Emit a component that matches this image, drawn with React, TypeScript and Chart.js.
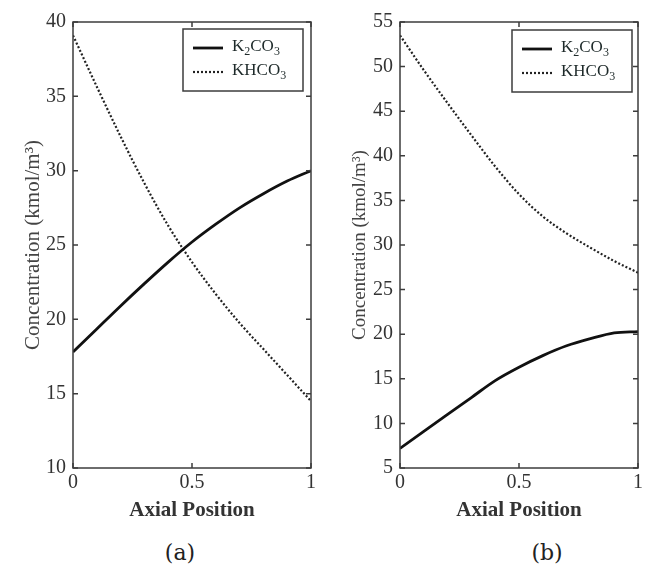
import React, { useEffect, useRef } from 'react';
import { Chart, registerables } from 'chart.js';

Chart.register(...registerables);

// ---- Data ----
const positions = [0, 0.1, 0.2, 0.3, 0.4, 0.5, 0.6, 0.7, 0.8, 0.9, 1.0];
const k2co3A = [17.8, 19.35, 20.9, 22.4, 23.85, 25.2, 26.4, 27.5, 28.45, 29.3, 30.0];
const khco3A = [39.1, 35.65, 32.3, 29.15, 26.3, 23.85, 21.7, 19.75, 18.0, 16.25, 14.5];
const k2co3B = [7.2, 9.1, 11.0, 12.9, 14.8, 16.3, 17.6, 18.7, 19.5, 20.15, 20.3];
const khco3B = [53.5, 49.6, 45.9, 42.3, 38.8, 35.7, 33.2, 31.3, 29.7, 28.2, 26.9];
const seriesNames = ['K₂CO₃', 'KHCO₃'];
const xTicks = [0, 0.5, 1];
const yTicksA = [10, 15, 20, 25, 30, 35, 40];
const yTicksB = [5, 10, 15, 20, 25, 30, 35, 40, 45, 50, 55];
const xTitle = 'Axial Position';
const yTitle = 'Concentration (kmol/m³)';
const panelLabels = ['(a)', '(b)'];

const SERIF = '"Liberation Serif", "Times New Roman", serif';
const SUBS = '₀₁₂₃₄₅₆₇₈₉';

function drawRichLabel(ctx: CanvasRenderingContext2D, text: string, x: number, y: number) {
  let cx = x;
  for (const ch of Array.from(text)) {
    const si = SUBS.indexOf(ch);
    if (si >= 0) {
      ctx.font = '12px ' + SERIF;
      ctx.fillText(String(si), cx, y + 5);
      cx += ctx.measureText(String(si)).width;
    } else {
      ctx.font = '17px ' + SERIF;
      ctx.fillText(ch, cx, y);
      cx += ctx.measureText(ch).width;
    }
  }
}

const framePlugin = {
  id: 'frame',
  afterDraw(chart: any, _args: any, opts: any) {
    const { ctx, chartArea } = chart;
    const { left, right, top, bottom } = chartArea;
    const x = chart.scales.x;
    const y = chart.scales.y;
    ctx.save();
    ctx.strokeStyle = '#3c3c3c';
    ctx.lineWidth = 1.5;
    ctx.setLineDash([]);
    ctx.strokeRect(left, top, right - left, bottom - top);
    const tl = 5;
    ctx.beginPath();
    (opts.xTicks || []).forEach((v: number) => {
      const px = x.getPixelForValue(v);
      ctx.moveTo(px, bottom);
      ctx.lineTo(px, bottom - tl);
      ctx.moveTo(px, top);
      ctx.lineTo(px, top + tl);
    });
    (opts.yTicks || []).forEach((v: number) => {
      const py = y.getPixelForValue(v);
      ctx.moveTo(left, py);
      ctx.lineTo(left + tl, py);
      ctx.moveTo(right, py);
      ctx.lineTo(right - tl, py);
    });
    ctx.stroke();

    // Legend box
    const bw = 120;
    const bh = 62;
    const bx = right - opts.legendRight - bw;
    const by = top + opts.legendTop;
    ctx.fillStyle = '#ffffff';
    ctx.fillRect(bx, by, bw, bh);
    ctx.strokeStyle = '#3c3c3c';
    ctx.lineWidth = 1.5;
    ctx.strokeRect(bx, by, bw, bh);
    const rows = [by + 19, by + 43];
    chart.data.datasets.forEach((ds: any, i: number) => {
      const ry = rows[i];
      ctx.beginPath();
      ctx.strokeStyle = ds.borderColor;
      ctx.lineWidth = ds.borderWidth;
      ctx.setLineDash(ds.borderDash || []);
      ctx.moveTo(bx + 10, ry);
      ctx.lineTo(bx + 40, ry);
      ctx.stroke();
      ctx.setLineDash([]);
      ctx.fillStyle = '#1e2a2a';
      ctx.textBaseline = 'middle';
      ctx.textAlign = 'left';
      drawRichLabel(ctx, ds.label, bx + 49, ry - 1);
    });
    ctx.restore();
  },
};

function makeConfig(
  k2: number[],
  kh: number[],
  yMin: number,
  yMax: number,
  yTicks: number[],
  yWidth: number,
  padRight: number,
  yTitleSize: number,
  yTitlePad: number,
  legendRight: number,
  legendTop: number
): any {
  return {
    type: 'line',
    data: {
      datasets: [
        {
          label: seriesNames[0],
          data: positions.map((p, i) => ({ x: p, y: k2[i] })),
          borderColor: '#111111',
          borderWidth: 2.8,
          pointRadius: 0,
          fill: false,
          cubicInterpolationMode: 'monotone',
        },
        {
          label: seriesNames[1],
          data: positions.map((p, i) => ({ x: p, y: kh[i] })),
          borderColor: '#222222',
          borderWidth: 2.2,
          borderDash: [2, 2],
          pointRadius: 0,
          fill: false,
          cubicInterpolationMode: 'monotone',
        },
      ],
    },
    options: {
      animation: false,
      responsive: false,
      devicePixelRatio: 1,
      layout: { padding: { left: 0, right: padRight, top: 22, bottom: 0 } },
      plugins: {
        legend: { display: false },
        tooltip: { enabled: false },
        frame: { xTicks, yTicks, legendRight, legendTop },
      },
      scales: {
        x: {
          type: 'linear',
          min: 0,
          max: 1,
          afterBuildTicks: (scale: any) => {
            scale.ticks = xTicks.map((v) => ({ value: v }));
          },
          afterFit: (scale: any) => {
            scale.height = 62;
          },
          grid: { display: false, drawTicks: false },
          border: { display: false },
          ticks: {
            padding: 3,
            color: '#333333',
            font: { family: SERIF, size: 20 },
            callback: (v: any) => String(v),
            maxRotation: 0,
            autoSkip: false,
          },
          title: {
            display: true,
            text: xTitle,
            color: '#333333',
            font: { family: SERIF, size: 21, weight: 'bold' },
            padding: { top: 0, bottom: 7 },
          },
        },
        y: {
          type: 'linear',
          min: yMin,
          max: yMax,
          afterBuildTicks: (scale: any) => {
            scale.ticks = yTicks.map((v) => ({ value: v }));
          },
          afterFit: (scale: any) => {
            scale.width = yWidth;
          },
          grid: { display: false, drawTicks: false },
          border: { display: false },
          ticks: {
            padding: 7,
            color: '#333333',
            font: { family: SERIF, size: 20 },
            autoSkip: false,
          },
          title: {
            display: true,
            text: yTitle,
            color: '#444444',
            font: { family: SERIF, size: yTitleSize },
            padding: { top: yTitlePad, bottom: 0 },
          },
        },
      },
    },
    plugins: [framePlugin],
  };
}

function Panel({ left, width, config }: { left: number; width: number; config: any }) {
  const ref = useRef<HTMLCanvasElement | null>(null);
  useEffect(() => {
    if (!ref.current) return;
    const chart = new Chart(ref.current, config);
    return () => chart.destroy();
  }, []);
  return (
    <canvas
      ref={ref}
      width={width}
      height={530}
      style={{ position: 'absolute', left, top: 0, width, height: 530 }}
    />
  );
}

export default function App() {
  const cfgA = makeConfig(k2co3A, khco3A, 10, 40, yTicksA, 73, 14, 21, 21, 8, 7);
  const cfgB = makeConfig(k2co3B, khco3B, 5, 55, yTicksB, 75, 13, 19, 24, 6, 8);
  const labelStyle: React.CSSProperties = {
    position: 'absolute',
    top: 541,
    transform: 'translateX(-50%)',
    fontFamily: '"DejaVu Serif", serif',
    fontSize: 22,
    lineHeight: '24px',
    color: '#222',
    whiteSpace: 'nowrap',
  };
  return (
    <div style={{ position: 'absolute', left: 0, top: 0, width: 651, height: 566, background: '#fff' }}>
      <Panel left={0} width={325} config={cfgA} />
      <Panel left={325} width={326} config={cfgB} />
      <div style={{ ...labelStyle, left: 180 }}>{panelLabels[0]}</div>
      <div style={{ ...labelStyle, left: 547 }}>{panelLabels[1]}</div>
    </div>
  );
}
